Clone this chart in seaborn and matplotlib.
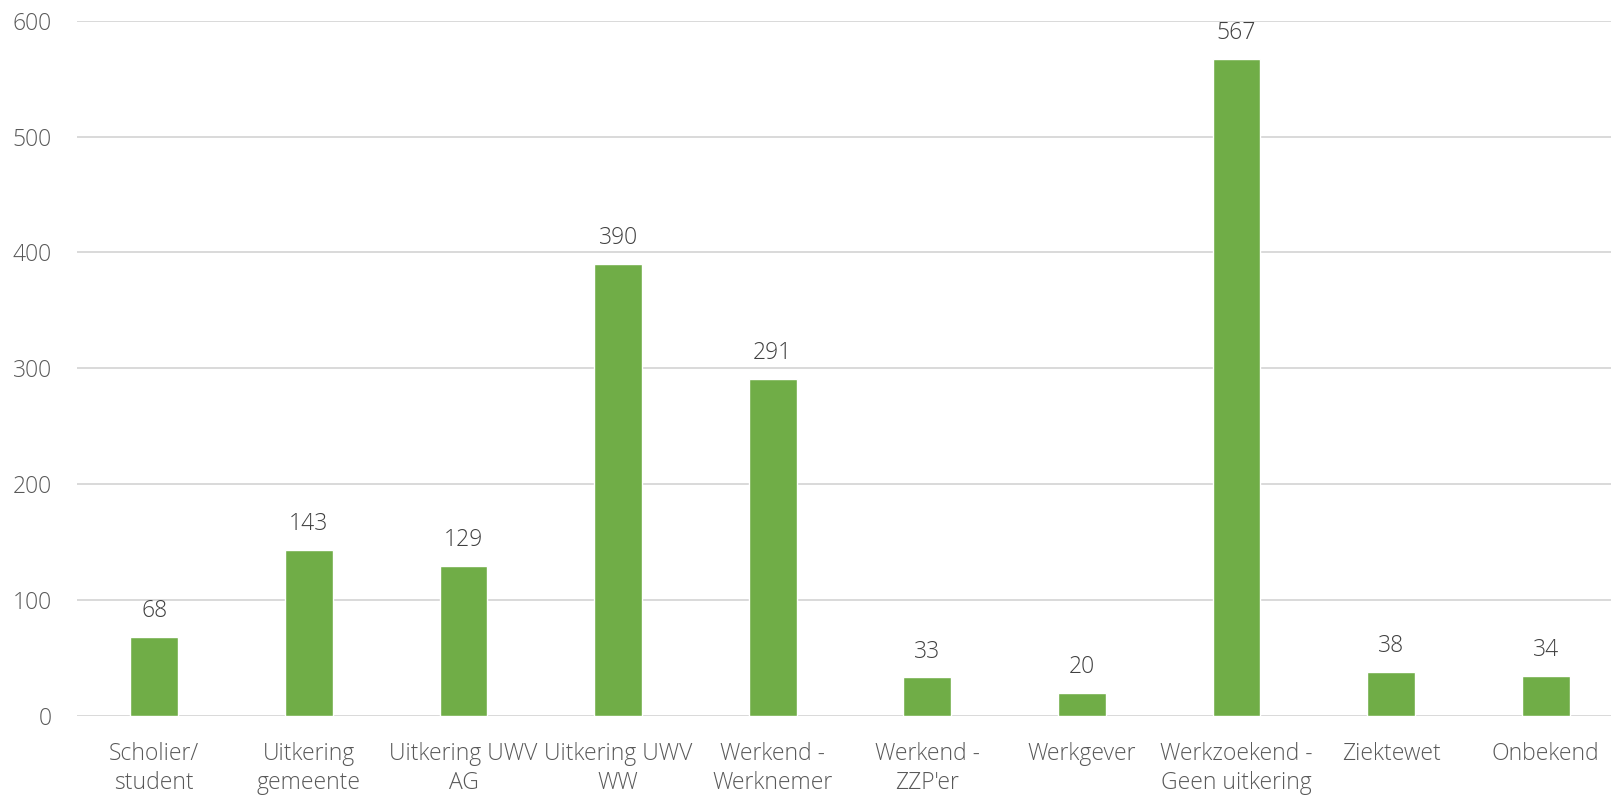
import matplotlib
matplotlib.use("Agg")
import matplotlib.pyplot as plt
import seaborn as sns
import pandas as pd

categories = ["Scholier/\nstudent", "Uitkering\ngemeente", "Uitkering UWV\nAG", "Uitkering UWV\nWW",
              "Werkend -\nWerknemer", "Werkend -\nZZP'er", "Werkgever", "Werkzoekend -\nGeen uitkering",
              "Ziektewet", "Onbekend"]
values = [68, 143, 129, 390, 291, 33, 20, 567, 38, 34]
y_ticks = [0, 100, 200, 300, 400, 500, 600]

sns.set_theme(style="white")
plt.rcParams['font.family'] = ['Open Sans', 'DejaVu Sans']
plt.rcParams['font.weight'] = 'light'

df = pd.DataFrame({"cat": categories, "val": values})

W, H = 1611, 795
fig = plt.figure(figsize=(W / 100, H / 100), dpi=100)
ax = fig.add_axes([77 / W, (H - 715.7) / H, (1623 - 77) / W, (715.7 - 20.7) / H])

sns.barplot(data=df, x="cat", y="val", color="#70AD47", width=0.31, saturation=1, ax=ax, zorder=3)

ax.set_ylim(0, 600)
ax.set_yticks(y_ticks)
ax.yaxis.grid(True, color="#D9D9D9", linewidth=1.4, zorder=0)
ax.set_axisbelow(True)
for s in ax.spines.values():
    s.set_visible(False)
ax.set_xlabel("")
ax.set_ylabel("")
ax.tick_params(axis="y", length=0, pad=18, labelsize=16.5, labelcolor="#595959")
ax.tick_params(axis="x", length=0, pad=19, labelsize=16.5, labelcolor="#595959")
for lbl in ax.get_xticklabels():
    lbl.set_linespacing(1.28)

ax.bar_label(ax.containers[0], labels=[str(v) for v in values], padding=10,
             fontsize=16.5, color="#404040")

fig.savefig("out.png", dpi=100)
